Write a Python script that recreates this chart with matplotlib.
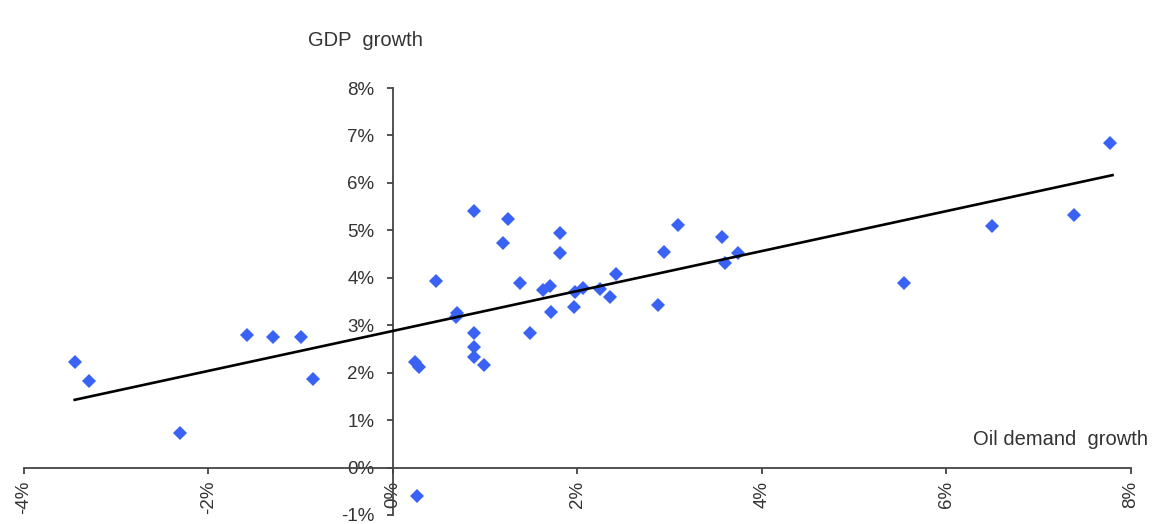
import numpy as np
import matplotlib.pyplot as plt
from matplotlib.ticker import FuncFormatter

# Annual oil demand growth vs GDP growth (%)
oil_growth = [-3.45, -3.30, -2.31, -1.58, -1.30, -1.00, -0.87,
              0.26, 0.24, 0.28, 0.47, 0.69, 0.68, 0.88, 0.88, 0.88, 0.88, 0.99,
              1.19, 1.25, 1.38, 1.49, 1.63, 1.70, 1.71, 1.81, 1.81,
              1.96, 1.97, 2.06, 2.24, 2.35, 2.42, 2.87, 2.94, 3.09,
              3.57, 3.60, 3.74, 5.54, 6.49, 7.38, 7.77]
gdp_growth = [2.23, 1.83, 0.72, 2.80, 2.76, 2.76, 1.87,
              -0.61, 2.23, 2.13, 3.94, 3.25, 3.17, 5.41, 2.84, 2.55, 2.34, 2.17,
              4.74, 5.24, 3.89, 2.84, 3.75, 3.82, 3.27, 4.95, 4.52,
              3.39, 3.70, 3.78, 3.77, 3.59, 4.08, 3.43, 4.54, 5.12,
              4.86, 4.31, 4.53, 3.89, 5.09, 5.33, 6.84]

# linear trend: gdp = slope * oil + intercept
trend_slope = 0.421
trend_intercept = 2.88

x_ticks = [-4, -2, 0, 2, 4, 6, 8]
y_ticks = [-1, 0, 1, 2, 3, 4, 5, 6, 7, 8]

plt.rcParams['font.family'] = ['Liberation Sans', 'DejaVu Sans']

fig = plt.figure(figsize=(11.57, 5.24), dpi=100)
ax = fig.add_axes([0.0207, 0.0172, 0.9568, 0.8148])

x = np.array(oil_growth)
y = np.array(gdp_growth)
ax.plot(x, y, linestyle='none', marker='D', markersize=7.5,
        color='#3a63f5', markeredgewidth=0, zorder=3)

xs = np.array([x.min(), x.max() + 0.03])
ax.plot(xs, trend_slope * xs + trend_intercept, color='black',
        linewidth=1.9, zorder=4)

ax.set_xlim(-4, 8)
ax.set_ylim(-1, 8)
ax.set_xticks(x_ticks)
ax.set_yticks(y_ticks)
pct = FuncFormatter(lambda v, pos: f'{v:.0f}%')
ax.xaxis.set_major_formatter(pct)
ax.yaxis.set_major_formatter(pct)

# axes cross at the origin
ax.spines['left'].set_position(('data', 0))
ax.spines['bottom'].set_position(('data', 0))
ax.spines['top'].set_visible(False)
ax.spines['right'].set_visible(False)
for s in ('left', 'bottom'):
    ax.spines[s].set_color('#444444')
    ax.spines[s].set_linewidth(1.3)

ax.tick_params(axis='both', colors='#444444', labelcolor='#333333',
               direction='out', length=4.5, width=1.3, labelsize=13.5)
ax.tick_params(axis='x', pad=5)
ax.tick_params(axis='y', pad=9)
for lbl in ax.get_xticklabels():
    lbl.set_rotation(90)

ax.text(-0.92, 9.01, 'GDP  growth', fontsize=14.5, color='#333333',
        ha='left', va='center', clip_on=False)
ax.text(8.18, 0.59, 'Oil demand  growth', fontsize=14.5, color='#333333',
        ha='right', va='center', clip_on=False)

fig.savefig('out.png', dpi=100, facecolor='white')
